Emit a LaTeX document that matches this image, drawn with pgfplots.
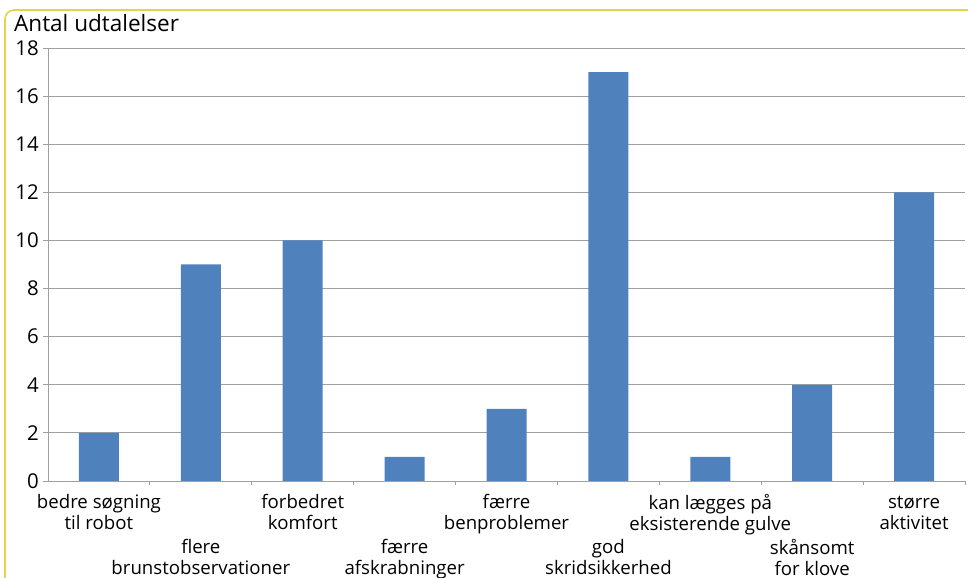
\documentclass[border=0pt]{standalone}
\usepackage{pgfplots}
\pgfplotsset{compat=1.18}
\usepackage{fontspec}
\setmainfont{Open Sans}
\definecolor{barblue}{RGB}{79,129,189}
\definecolor{gridgray}{RGB}{160,160,160}
\definecolor{yellowborder}{RGB}{228,212,72}
\begin{document}
\begin{tikzpicture}[x=1bp,y=1bp]
\path[use as bounding box] (0,0) rectangle (968,578);
\begin{scope}
\clip (0,0) rectangle (968,578);
\draw[yellowborder, line width=1.6bp, rounded corners=9bp] (5,-30) rectangle (1000,568);
\end{scope}
\node[anchor=base west, inner sep=0, font=\fontsize{22.6}{25}\selectfont] at (14,546) {Antal udtalelser};
\begin{axis}[
  at={(48bp,97bp)}, anchor=south west, scale only axis,
  width=917bp, height=433bp,
  xmin=-0.5, xmax=8.5, ymin=0, ymax=18,
  axis x line=bottom, axis y line=left,
  axis line style={draw=gridgray, -},
  ytick={0,2,...,18},
  ymajorgrids, grid style={draw=gridgray, line width=0.8bp},
  tick align=outside,
  ytick style={draw=gridgray, line width=0.8bp},
  major tick length=5bp,
  xtick={0,...,8},
  major x tick style={draw=none},
  minor xtick={0.5,1.5,...,8.5},
  minor x tick style={draw=gridgray, line width=0.8bp},
  minor tick length=4bp,
  xticklabels={
    {\strut bedre søgning\\til robot},
    {\strut flere\\brunstobservationer},
    {\strut forbedret\\komfort},
    {\strut færre\\afskrabninger},
    {\strut færre\\benproblemer},
    {\strut god\\skridsikkerhed},
    {\strut kan lægges på\\eksisterende gulve},
    {\strut skånsomt\\for klove},
    {\strut større\\aktivitet}},
  xticklabel style={anchor=north, align=center, inner sep=0,
    font=\fontsize{18.7}{21}\selectfont,
    yshift={-8bp-mod(\ticknum,2)*45bp}},
  yticklabel style={font=\fontsize{20.5}{22}\selectfont, inner sep=0, xshift=-4bp},
  /pgf/number format/assume math mode=true,
  clip=false,
]
\addplot[ybar, fill=barblue, draw=none, bar width=40bp] coordinates {
  (0,2) (1,9) (2,10) (3,1) (4,3) (5,17) (6,1) (7,4) (8,12)};
\end{axis}
\end{tikzpicture}
\end{document}
